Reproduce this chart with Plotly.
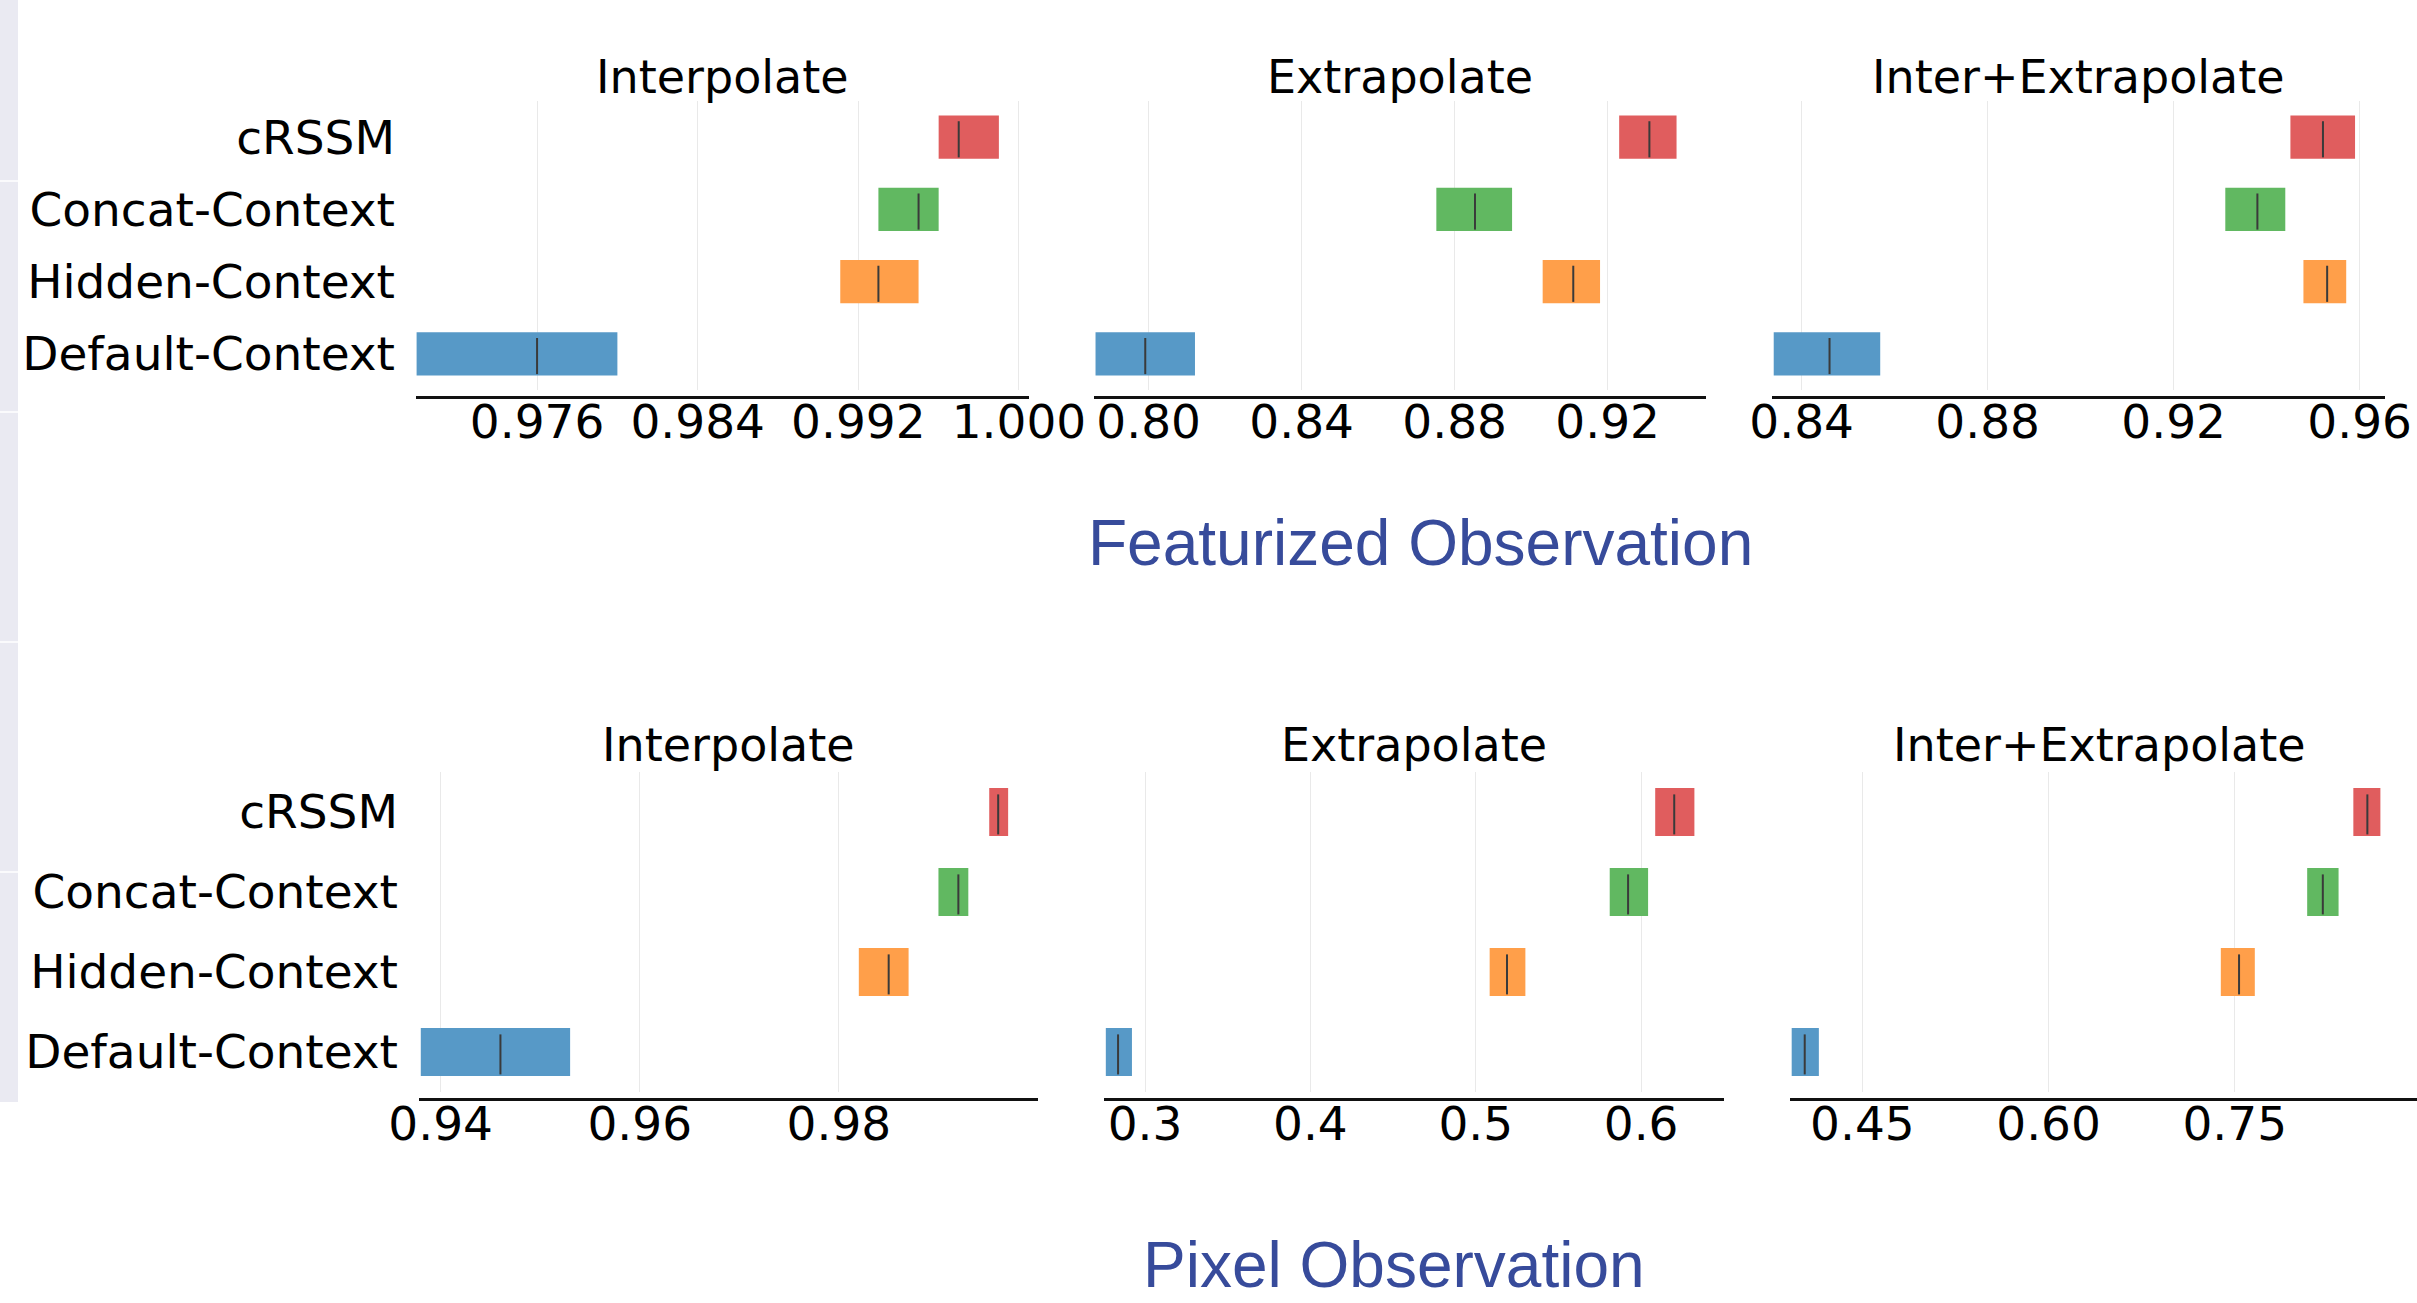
import plotly.graph_objects as go

# ---------------- data ----------------
categories = ["cRSSM", "Concat-Context", "Hidden-Context", "Default-Context"]
colors = ["#e05d5e", "#61b861", "#ff9f4a", "#5799c7"]

panel_titles = ["Interpolate", "Extrapolate", "Inter+Extrapolate"]
row_titles = ["Featurized Observation", "Pixel Observation"]

feat_interp_low = [0.9960, 0.9930, 0.9911, 0.9700]
feat_interp_med = [0.9970, 0.9950, 0.9930, 0.9760]
feat_interp_high = [0.9990, 0.9960, 0.9950, 0.9800]

feat_extrap_low = [0.9230, 0.8752, 0.9030, 0.7861]
feat_extrap_med = [0.9309, 0.8853, 0.9110, 0.7991]
feat_extrap_high = [0.9380, 0.8950, 0.9180, 0.8121]

feat_both_low = [0.9451, 0.9311, 0.9479, 0.8340]
feat_both_med = [0.9521, 0.9380, 0.9530, 0.8460]
feat_both_high = [0.9590, 0.9440, 0.9571, 0.8569]

pix_interp_low = [0.9951, 0.9900, 0.9820, 0.9380]
pix_interp_med = [0.9960, 0.9920, 0.9850, 0.9460]
pix_interp_high = [0.9970, 0.9930, 0.9870, 0.9530]

pix_extrap_low = [0.6085, 0.5810, 0.5084, 0.2763]
pix_extrap_med = [0.6200, 0.5921, 0.5189, 0.2837]
pix_extrap_high = [0.6322, 0.6042, 0.5300, 0.2921]

pix_both_low = [0.8456, 0.8084, 0.7388, 0.3930]
pix_both_med = [0.8569, 0.8210, 0.7535, 0.4035]
pix_both_high = [0.8674, 0.8337, 0.7662, 0.4149]

tick_vals = [
    [0.976, 0.984, 0.992, 1.000],
    [0.80, 0.84, 0.88, 0.92],
    [0.84, 0.88, 0.92, 0.96],
    [0.94, 0.96, 0.98],
    [0.3, 0.4, 0.5, 0.6],
    [0.45, 0.60, 0.75],
]
tick_fmt = [".3f", ".2f", ".2f", ".2f", ".1f", ".2f"]

panels = [
    (feat_interp_low, feat_interp_med, feat_interp_high),
    (feat_extrap_low, feat_extrap_med, feat_extrap_high),
    (feat_both_low, feat_both_med, feat_both_high),
    (pix_interp_low, pix_interp_med, pix_interp_high),
    (pix_extrap_low, pix_extrap_med, pix_extrap_high),
    (pix_both_low, pix_both_med, pix_both_high),
]

# ---------------- layout geometry (pixels) ----------------
W, H = 2417, 1303
x_px = [(416, 1029), (1094, 1706), (1772, 2385), (419, 1038), (1104, 1724), (1790, 2417)]
y_px = [(101, 390)] * 3 + [(772, 1092)] * 3
axis_line_px = [396.5] * 3 + [1099] * 3
x_ranges = [
    [0.96997, 1.0005],
    [0.7857, 0.9457],
    [0.83363, 0.96544],
    [0.93782, 1.0],
    [0.2752, 0.6501],
    [0.39164, 0.8969],
]
title_px = [(722, 77), (1400, 77), (2078, 77), (728, 745), (1414, 745), (2099, 745)]

TICK_FONT = dict(family="DejaVu Sans", size=47, color="black")

fig = go.Figure()
layout = dict(
    width=W, height=H,
    margin=dict(l=0, r=0, t=0, b=0, autoexpand=False),
    paper_bgcolor="white", plot_bgcolor="white",
    showlegend=False,
    shapes=[], annotations=[],
)

ypos = list(range(len(categories)))

for i, (low, med, high) in enumerate(panels):
    n = "" if i == 0 else str(i + 1)
    xa, ya = "x" + n, "y" + n
    widths = [h - l for l, h in zip(low, high)]
    fig.add_trace(go.Bar(
        y=ypos, x=widths, base=low, orientation="h", width=0.6,
        marker=dict(color=colors, line=dict(width=0)),
        xaxis=xa, yaxis=ya,
    ))
    mx, my = [], []
    for c, m in zip(ypos, med):
        mx += [m, m, None]
        my += [c - 0.22, c + 0.28, None]
    fig.add_trace(go.Scatter(
        x=mx, y=my, mode="lines", line=dict(color="#3a3a3a", width=2),
        xaxis=xa, yaxis=ya, hoverinfo="skip",
    ))
    x0, x1 = x_px[i]
    yt, yb = y_px[i]
    layout["xaxis" + n] = dict(
        domain=[x0 / W, x1 / W], range=x_ranges[i],
        anchor="free", position=1 - axis_line_px[i] / H,
        showline=True, linecolor="#111111", linewidth=3,
        showgrid=True, gridcolor="#e9e9e9", gridwidth=1,
        zeroline=False, ticks="", tickvals=tick_vals[i], tickformat=tick_fmt[i],
        tickfont=TICK_FONT, ticklabelstandoff=-17, automargin=False,
    )
    layout["yaxis" + n] = dict(
        domain=[1 - yb / H, 1 - yt / H], range=[3.5, -0.5],
        anchor=xa, showline=False, showgrid=False, zeroline=False,
        tickvals=ypos, ticktext=categories,
        showticklabels=(i % 3 == 0), ticks="",
        tickfont=TICK_FONT, ticklabelstandoff=20, automargin=False,
    )
    tx, ty = title_px[i]
    layout["annotations"].append(dict(
        text=panel_titles[i % 3], x=tx / W, y=1 - ty / H, xref="paper", yref="paper",
        xanchor="center", yanchor="middle", showarrow=False,
        font=dict(family="DejaVu Sans", size=46, color="black"),
    ))

# row titles
layout["annotations"].append(dict(
    text=row_titles[0], x=1420 / W, y=1 - 543 / H, xref="paper", yref="paper",
    xanchor="center", yanchor="middle", showarrow=False,
    font=dict(family="Liberation Sans", size=64, color="#374b9b"),
))
layout["annotations"].append(dict(
    text=row_titles[1], x=1394 / W, y=0, xref="paper", yref="paper",
    xanchor="center", yanchor="bottom", showarrow=False,
    font=dict(family="Liberation Sans", size=64, color="#374b9b"),
))

# left-edge fragment of a grey background panel
layout["shapes"].append(dict(
    type="rect", xref="paper", yref="paper", x0=0, x1=18 / W, y0=1 - 1102 / H, y1=1,
    fillcolor="#eaeaf2", line=dict(width=0), layer="below",
))
for yy in [181, 412, 642, 872]:
    layout["shapes"].append(dict(
        type="line", xref="paper", yref="paper", x0=0, x1=18 / W,
        y0=1 - yy / H, y1=1 - yy / H, line=dict(color="white", width=1.5), layer="below",
    ))

fig.update_layout(**layout)
fig.write_html(
    "out.html",
    config={"displayModeBar": False},
    post_script="document.body.style.margin='0px';",
)
